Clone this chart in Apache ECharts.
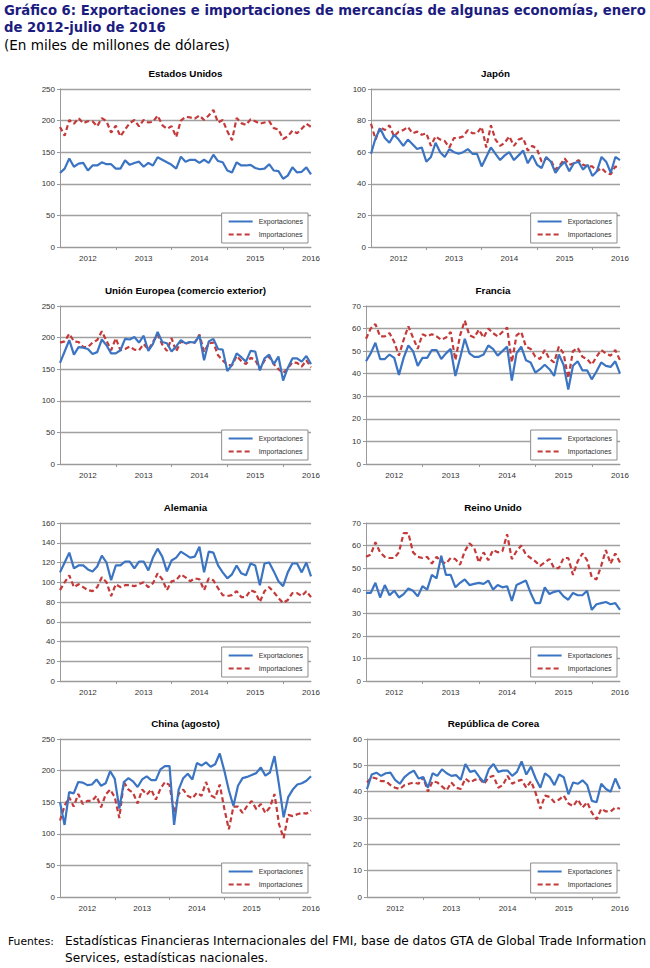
<!DOCTYPE html>
<html>
<head>
<meta charset="utf-8">
<script src="https://cdn.jsdelivr.net/npm/echarts/dist/echarts.min.js"></script>
<style>
html,body{margin:0;padding:0;background:#fff;}
#chart{width:650px;height:968px;}
</style>
</head>
<body>
<div id="chart"></div>
<script>
// ---- Categories ----
const years = ['2012', '2013', '2014', '2015', '2016'];
const monthNames = ['ene', 'feb', 'mar', 'abr', 'may', 'jun', 'jul', 'ago', 'sep', 'oct', 'nov', 'dic'];
const seriesNames = ['Exportaciones', 'Importaciones'];

// ---- Data (miles de millones de dólares), enero 2012 - julio 2016 ----
const usExp = [117,124,140,127,132,133,121,129,129,134,131,131,
  124,124,137,130,133,135,127,133,129,142,138,134,
  130,124,143,135,138,138,133,138,133,146,136,134,
  121,118,134,129,129,130,125,123,124,131,121,120,
  108,113,126,118,119,126,115];
const usImp = [190,176,201,195,204,196,199,199,191,204,199,181,
  192,175,186,196,201,191,201,197,198,208,193,187,
  191,174,200,206,205,203,208,201,208,217,197,201,
  183,169,204,196,193,202,199,195,197,199,188,186,
  171,175,184,180,187,195,190];

const jpExp = [59,69,75,69,66,71,68,64,68,65,62,63,
  54,57,66,60,57,62,60,59,60,62,59,59,
  51,57,63,59,55,58,60,55,58,61,53,58,
  52,50,57,54,47,51,54,48,53,54,49,52,
  45,48,57,54,47,57,55];
const jpImp = [78,68,76,74,77,70,73,74,76,72,73,71,
  72,64,70,68,67,63,69,69,70,74,72,72,
  76,63,77,68,64,66,70,64,68,69,61,64,
  62,54,56,55,49,52,56,52,53,55,52,51,
  51,48,50,47,46,51,50];

const euExp = [160,178,196,173,185,184,182,174,177,197,188,175,
  175,180,198,197,201,192,203,179,190,209,193,191,
  178,186,196,191,193,192,203,164,194,198,182,181,
  147,157,175,169,162,179,178,148,167,173,158,170,
  132,152,167,167,162,171,158];
const euImp = [192,194,206,194,193,185,185,192,196,210,195,180,
  199,180,182,186,181,180,190,181,193,205,189,179,
  199,178,194,190,193,192,205,177,191,192,172,164,
  157,156,171,163,158,168,165,150,164,170,158,150,
  144,151,161,160,154,164,153];

const frExp = [45.5,49,53.7,46.5,46.5,48.5,47,39.5,47,52.5,50,43.5,
  47,47,50.5,50.5,46.5,49,51,39,47,55.5,49,47.5,
  47.5,48.5,52.5,51,48,50,52,37,49,52,46,45,
  40.5,42,44,42,39,48.5,44,33,43.5,45.5,41.5,41.5,
  37.5,41,45,43.5,43,45.5,40];
const frImp = [55.5,60,62,56.5,56.5,58,54,48,55,61,56,51,
  57.5,56.5,57.5,56.5,55,56,58.5,46,57,63.5,57,56,
  59.5,56,60,58,56.5,58.5,60.5,45,57,58.5,52,51,
  47.5,46.5,50.5,46.5,45,52,49,38,50,51.5,47.5,46.5,
  44,47.5,50.5,49,48,50.5,46];

const deExp = [110,120,130,114,117,117,113,111,116,127,120,102,
  117,117,121,121,114,121,121,112,125,134,126,111,
  122,125,131,128,125,126,136,110,131,130,117,110,
  104,108,117,109,107,119,117,97,119,120,111,101,
  96,110,119,119,110,120,106];
const deImp = [92,100,107,95,98,95,92,91,95,105,100,86,
  98,95,97,97,96,98,100,95,99,109,103,92,
  101,102,108,105,101,104,103,92,104,102,94,87,
  86,87,91,85,85,92,90,80,91,95,90,84,
  79,82,89,89,86,91,85];

const ukExp = [39,39,43.5,37,42.5,38,40,37,38.5,41,40,37.5,
  42,40.5,47,45.5,55.5,47,47,41.5,43.5,45,42.5,43,
  43.5,43,44.5,40.5,42.5,41.5,42,35.5,42.5,43.5,44.5,39,
  34.5,34.5,41.5,38.5,39.5,40,37.5,36,39,38,38,40,
  31.5,34,34.5,35,34,34.5,31.5];
const ukImp = [55,56,61.5,57,55,54.5,54.5,57,65.5,65.5,57,55,
  54.5,55,52,55,53,52,54.5,54,51.5,57.5,61,59,
  52.5,57,53.5,58,57,57.5,65,54,57.5,60,56,54.5,
  53,51,52.5,54,50,50,54.5,54.5,47,53,56.5,53.5,
  46,45,51,58,52,56.5,52.5];

// China: enero 2012 - agosto 2016
const cnExp = [150,114,166,164,182,181,177,178,186,176,180,199,
  187,140,182,188,183,174,186,191,185,185,202,207,
  207,114,170,188,195,186,212,208,213,206,210,227,
  200,169,144,176,188,190,193,196,205,192,197,223,
  177,126,158,170,178,180,184,191];
const cnImp = [121,144,158,143,163,147,152,152,160,142,162,170,
  158,125,182,170,165,148,170,162,170,154,171,182,
  177,133,163,170,160,156,165,160,182,161,157,178,
  140,107,143,143,133,144,152,139,147,133,142,163,
  115,93,130,128,131,133,132,137];

const krExp = [41,46.5,47.2,46,47,47.2,44.5,43,45.5,47,48,45,
  45.5,41.5,47,46,48.5,47,46,46.3,44.5,50.5,47.5,48,
  45.5,43.5,48.5,50.5,47.5,48,48,46,47.5,51.5,46.5,49.5,
  45,41.5,47,45.5,42.5,46.5,45.5,39,43.5,43,44.3,42.5,
  36.5,36,43,41,40,45,41];
const krImp = [43.5,45.5,45,44,44,42.5,41.5,41,42.5,43,43.5,43,
  45.5,40,44,43.5,42,40.5,43.5,41.5,41,45,43.5,44.5,
  45,43,45.5,46,41.5,42.5,46,43,44,44.5,41.5,44,
  39.5,33.5,38.5,38,36,37,38.5,35.5,34.5,37,34,36,
  32,29.5,33.5,32.5,32.5,34,33.5];

// ---- Panels ----
const panelTitles = ['Estados Unidos', 'Japón', 'Unión Europea (comercio exterior)', 'Francia',
  'Alemania', 'Reino Unido', 'China (agosto)', 'República de Corea'];
const panelExp = [usExp, jpExp, euExp, frExp, deExp, ukExp, cnExp, krExp];
const panelImp = [usImp, jpImp, euImp, frImp, deImp, ukImp, cnImp, krImp];
const panelMax = [250, 100, 250, 70, 160, 70, 250, 60];
const panelStep = [50, 20, 50, 10, 20, 10, 50, 10];

// ---- Text ----
const titleLine1 = 'Gráfico 6: Exportaciones e importaciones de mercancías de algunas economías, enero';
const titleLine2 = 'de 2012-julio de 2016';
const subtitleText = '(En miles de millones de dólares)';
const sourceLabel = 'Fuentes:';
const sourceLine1 = 'Estadísticas Financieras Internacionales del FMI, base de datos GTA de Global Trade Information';
const sourceLine2 = 'Services, estadísticas nacionales.';

// ---- Layout (pixels) ----
const gridLefts = [60, 371, 60, 366, 60, 366, 60, 367];
const gridRightEdge = [311, 620, 311, 620, 311, 620, 311, 620];
const rowTops = [89, 306, 523, 739];
const plotH = 158;

const allMonths = [];
years.forEach(y => monthNames.forEach(m => allMonths.push(m + ' ' + y)));

const BLUE = '#3B74C2';
const RED = '#C43A3A';
const AXIS_FONT = 'Liberation Sans, Arial, sans-serif';
const HEAD_FAMILY = 'DejaVu Sans';

// font size that makes a text span a given width (layout only)
const measureCtx = document.createElement('canvas').getContext('2d');
function fitSize(text, weight, family, targetWidth) {
  measureCtx.font = weight + ' 100px "' + family + '"';
  return 100 * targetWidth / measureCtx.measureText(text).width;
}

const grids = [], xAxes = [], yAxes = [], series = [], legends = [], graphics = [];

panelTitles.forEach((title, i) => {
  const row = Math.floor(i / 2);
  const left = gridLefts[i];
  const width = gridRightEdge[i] - left;
  const top = rowTops[row];
  const n = panelExp[i].length;
  const cats = allMonths.slice(0, n);

  grids.push({ left: left, top: top, width: width, height: plotH, containLabel: false });

  xAxes.push({
    type: 'category', gridIndex: i, data: cats, boundaryGap: false,
    axisLine: { show: true, lineStyle: { color: '#9a9a9a', width: 1 } },
    axisTick: {
      show: true, length: 3, lineStyle: { color: '#9a9a9a' },
      interval: (idx) => idx > 0 && idx % 12 === 0
    },
    axisLabel: {
      interval: (idx) => idx % 12 === 6 || idx === n - 1,
      formatter: (v) => v.slice(-4),
      fontFamily: AXIS_FONT, fontSize: 8, color: '#333', margin: 7,
      showMaxLabel: true, hideOverlap: false
    },
    splitLine: { show: false }
  });

  yAxes.push({
    type: 'value', gridIndex: i, min: 0, max: panelMax[i], interval: panelStep[i],
    axisLine: { show: true, lineStyle: { color: '#9a9a9a', width: 1 } },
    axisTick: { show: true, length: 3, lineStyle: { color: '#9a9a9a' } },
    axisLabel: { fontFamily: AXIS_FONT, fontSize: 8, color: '#333', margin: 5 },
    splitLine: { show: true, lineStyle: { color: '#a0a0a0', width: 1.4 } }
  });

  series.push({
    name: seriesNames[0], type: 'line', xAxisIndex: i, yAxisIndex: i,
    data: panelExp[i], symbol: 'none', silent: true, animation: false,
    lineStyle: { color: BLUE, width: 2.2 }, itemStyle: { color: BLUE }, z: 3
  });
  series.push({
    name: seriesNames[1], type: 'line', xAxisIndex: i, yAxisIndex: i,
    data: panelImp[i], symbol: 'none', silent: true, animation: false,
    lineStyle: { color: RED, width: 2.2, type: [5, 3] }, itemStyle: { color: RED }, z: 2
  });

  legends.push({
    data: seriesNames, orient: 'vertical', selectedMode: false,
    right: 650 - gridRightEdge[i] + 3, top: top + plotH - 34,
    backgroundColor: '#fff', borderColor: '#8c8c8c', borderWidth: 1,
    padding: [5, 5, 5, 6], itemGap: 6, itemWidth: 24, itemHeight: 2,
    itemStyle: { opacity: 0 },
    textStyle: { fontFamily: AXIS_FONT, fontSize: 7, color: '#333', padding: [0, 0, 0, 1] }, z: 10
  });

  graphics.push({
    type: 'text', x: (left + gridRightEdge[i]) / 2, y: top - 16,
    style: { text: title, fill: '#000', fontFamily: 'Liberation Sans', fontSize: 9.8, fontWeight: 'bold',
      align: 'center', verticalAlign: 'middle', textAlign: 'center', textVerticalAlign: 'middle' }
  });
});

function headText(x, y, text, size, weight, color) {
  return { type: 'text', x: x, y: y, style: { text: text, fill: color, fontFamily: HEAD_FAMILY,
    fontSize: size, fontWeight: weight, verticalAlign: 'middle', textVerticalAlign: 'middle' } };
}
const titleSize = fitSize(titleLine1, 'bold', HEAD_FAMILY, 642);
const subSize = fitSize(subtitleText, 'normal', HEAD_FAMILY, 226);
const srcSize = fitSize(sourceLine1, 'normal', HEAD_FAMILY, 582);
const labelSize = Math.min(srcSize, fitSize(sourceLabel, 'normal', HEAD_FAMILY, 46));
graphics.push(
  headText(4, 10, titleLine1, titleSize, 'bold', '#1c1c80'),
  headText(4, 27, titleLine2, titleSize, 'bold', '#1c1c80'),
  headText(4, 45, subtitleText, subSize, 'normal', '#000'),
  headText(8, 941, sourceLabel, labelSize, 'normal', '#000'),
  headText(65, 941, sourceLine1, srcSize, 'normal', '#000'),
  headText(65, 958, sourceLine2, srcSize, 'normal', '#000')
);

const chart = echarts.init(document.getElementById('chart'), null, { renderer: 'svg' });
chart.setOption({
  animation: false,
  backgroundColor: '#fff',
  grid: grids,
  xAxis: xAxes,
  yAxis: yAxes,
  series: series,
  legend: legends,
  graphic: graphics
});
</script>
</body>
</html>
